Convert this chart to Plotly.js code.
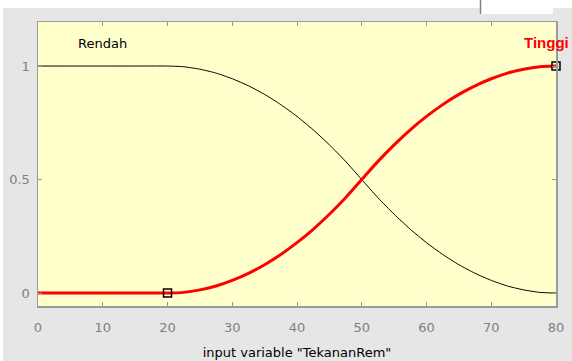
<!DOCTYPE html>
<html>
<head>
<meta charset="utf-8">
<script src="https://cdn.plot.ly/plotly-3.0.1.min.js"></script>
<style>
html,body{margin:0;padding:0;background:#fff;}
#chart{width:572px;height:361px;}
</style>
</head>
<body>
<div id="chart"></div>
<script>
// x values of the input variable "TekananRem"
var xVals = [0, 5, 10, 15, 20, 22.5, 25, 27.5, 30, 32.5, 35, 37.5, 40, 42.5, 45, 47.5, 50,
             52.5, 55, 57.5, 60, 62.5, 65, 67.5, 70, 72.5, 75, 77.5, 80];
// membership "Rendah" (black)
var rendah = [1, 1, 1, 1, 1, 0.997, 0.986, 0.969, 0.944, 0.913, 0.875, 0.83, 0.778, 0.719, 0.653, 0.58, 0.5,
              0.42, 0.347, 0.281, 0.222, 0.17, 0.125, 0.087, 0.056, 0.031, 0.014, 0.003, 0];
// membership "Tinggi" (red)
var tinggi = [0, 0, 0, 0, 0, 0.003, 0.014, 0.031, 0.056, 0.087, 0.125, 0.17, 0.222, 0.281, 0.347, 0.42, 0.5,
              0.58, 0.653, 0.719, 0.778, 0.83, 0.875, 0.913, 0.944, 0.969, 0.986, 0.997, 1];
// parameter markers of selected MF
var markX = [20, 80];
var markY = [0, 1];
var xTicks = [0, 10, 20, 30, 40, 50, 60, 70, 80];
var yTicks = [0, 0.5, 1];
var yTickText = ['0', '0.5', '1'];
var mfNames = ["Rendah", "Tinggi"];
var mfLabelX = [10, 80];
var mfLabelY = [1.1, 1.105];

function px2x(px){ return (px - 38) / 518; }
function px2y(py){ return (306 - py) / 284; }

var traces = [
  {x: xVals, y: rendah, mode: 'lines', line: {color: '#000000', width: 1, shape: 'spline', smoothing: 0.6}, hoverinfo: 'skip'},
  {x: xVals, y: tinggi, mode: 'lines', line: {color: '#ff0000', width: 3, shape: 'spline', smoothing: 0.6}, hoverinfo: 'skip'},
  {x: markX, y: markY, mode: 'markers', marker: {symbol: 'square-open', size: 8, color: '#000000', line: {width: 1.5}}, cliponaxis: false, hoverinfo: 'skip'}
];

var layout = {
  width: 572, height: 361,
  margin: {l: 38, r: 16, t: 22, b: 55, pad: 0},
  paper_bgcolor: '#e6e6e6',
  plot_bgcolor: '#ffffcc',
  showlegend: false,
  font: {family: 'DejaVu Sans, Liberation Sans, sans-serif', size: 13, color: '#000'},
  xaxis: {
    range: [0, 80], tickvals: xTicks, ticktext: xTicks.map(String),
    showgrid: false, zeroline: false, showline: true, linecolor: '#9a9a9a', linewidth: 1.5,
    mirror: 'ticks', ticks: 'inside', ticklen: 4, tickcolor: '#9a9a9a', tickwidth: 1,
    tickfont: {color: '#808080', size: 13}, ticklabelstandoff: 9,
    title: {text: 'input variable "TekananRem"', font: {size: 13, color: '#000'}, standoff: 14}
  },
  yaxis: {
    range: [-0.057, 1.194], tickvals: yTicks, ticktext: yTickText,
    showgrid: false, zeroline: false, showline: true, linecolor: '#9a9a9a', linewidth: 1.5,
    mirror: 'ticks', ticks: 'inside', ticklen: 4, tickcolor: '#9a9a9a', tickwidth: 1,
    tickfont: {color: '#808080', size: 13}, ticklabelstandoff: 4
  },
  annotations: [
    {x: mfLabelX[0], y: mfLabelY[0], xref: 'x', yref: 'y', text: mfNames[0], showarrow: false,
     font: {size: 13, color: '#000'}},
    {x: mfLabelX[1], y: mfLabelY[1], xref: 'x', yref: 'y', xshift: 15, xanchor: 'right', text: '<b>' + mfNames[1] + '</b>', showarrow: false,
     font: {family: 'Liberation Sans, Arial, sans-serif', size: 15, color: '#ff0000'}}
  ],
  shapes: [
    {type: 'rect', xref: 'paper', yref: 'paper', x0: px2x(0), x1: px2x(572), y0: px2y(8), y1: px2y(0), fillcolor: '#ffffff', line: {width: 0}, layer: 'below'},
    {type: 'rect', xref: 'paper', yref: 'paper', x0: px2x(0), x1: px2x(3), y0: px2y(361), y1: px2y(0), fillcolor: '#ffffff', line: {width: 0}, layer: 'below'},
    {type: 'rect', xref: 'paper', yref: 'paper', x0: px2x(481), x1: px2x(553), y0: px2y(14), y1: px2y(0), fillcolor: '#ffffff', line: {width: 0}, layer: 'below'},
    {type: 'line', xref: 'paper', yref: 'paper', x0: px2x(480.5), x1: px2x(480.5), y0: px2y(14), y1: px2y(0), line: {color: '#808080', width: 1.5}, layer: 'below'}
  ]
};

Plotly.newPlot('chart', traces, layout, {staticPlot: true, displayModeBar: false});
</script>
</body>
</html>
